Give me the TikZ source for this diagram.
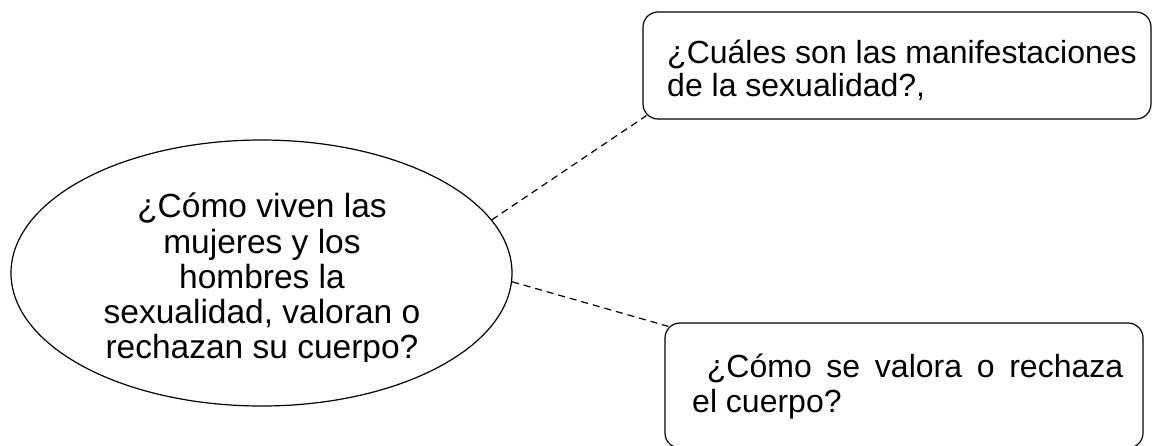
\documentclass[tikz,border=0pt]{standalone}
\usepackage{fontspec}
\setmainfont{Liberation Sans}
\usetikzlibrary{shapes.geometric,calc}
\begin{document}
\begin{tikzpicture}[x=1pt,y=-1pt,
  txt/.style={font=\fontsize{32}{35.5}\selectfont, inner sep=0pt},
  etxt/.style={font=\fontsize{33.5}{35.5}\selectfont, inner sep=0pt, anchor=base},
  shapeline/.style={draw, line width=1.2pt, inner sep=0pt},
  roundbox/.style={shapeline, rounded corners=15pt},
  link/.style={draw, line width=1.2pt, dash pattern=on 7pt off 5pt}]
\useasboundingbox (0,0) rectangle (1153,445);
% shapes
\node[shapeline, ellipse, minimum width=501pt, minimum height=266pt] (ell) at (261.5,273) {};
\node[roundbox, minimum width=508pt, minimum height=107pt] (top) at (897,65.5) {};
\node[roundbox, minimum width=478pt, minimum height=125pt] (low) at (904,385.5) {};
% ellipse text
\node[etxt] (e1) at (262,217) {¿Cómo viven las};
\node[etxt] (e2) at (262,253) {mujeres y los};
\node[etxt] (e3) at (262,288) {hombres la};
\node[etxt] (e4) at (262,323) {sexualidad, valoran o};
\begin{scope}
  \clip (0,0) rectangle (1153,361);
  \node[etxt] (e5) at (262,358) {rechazan su cuerpo?};
\end{scope}
% top box text
\node[txt, anchor=base west] (t1) at (667,63) {¿Cuáles son las manifestaciones};
\node[txt, anchor=base west] (t2) at (667,96) {de la sexualidad?,};
% lower box text
\node[txt, anchor=base west] (l1) at (692,377) {\makebox[431pt][s]{\ ¿Cómo se valora o rechaza}};
\node[txt, anchor=base west] (l2) at (692,412) {el cuerpo?};
% connectors
\draw[link] (ell.13) -- ($(top.south west)+(4,-4)$);
\draw[link] (ell.-2) -- ($(low.north west)+(4,4)$);
\end{tikzpicture}
\end{document}
